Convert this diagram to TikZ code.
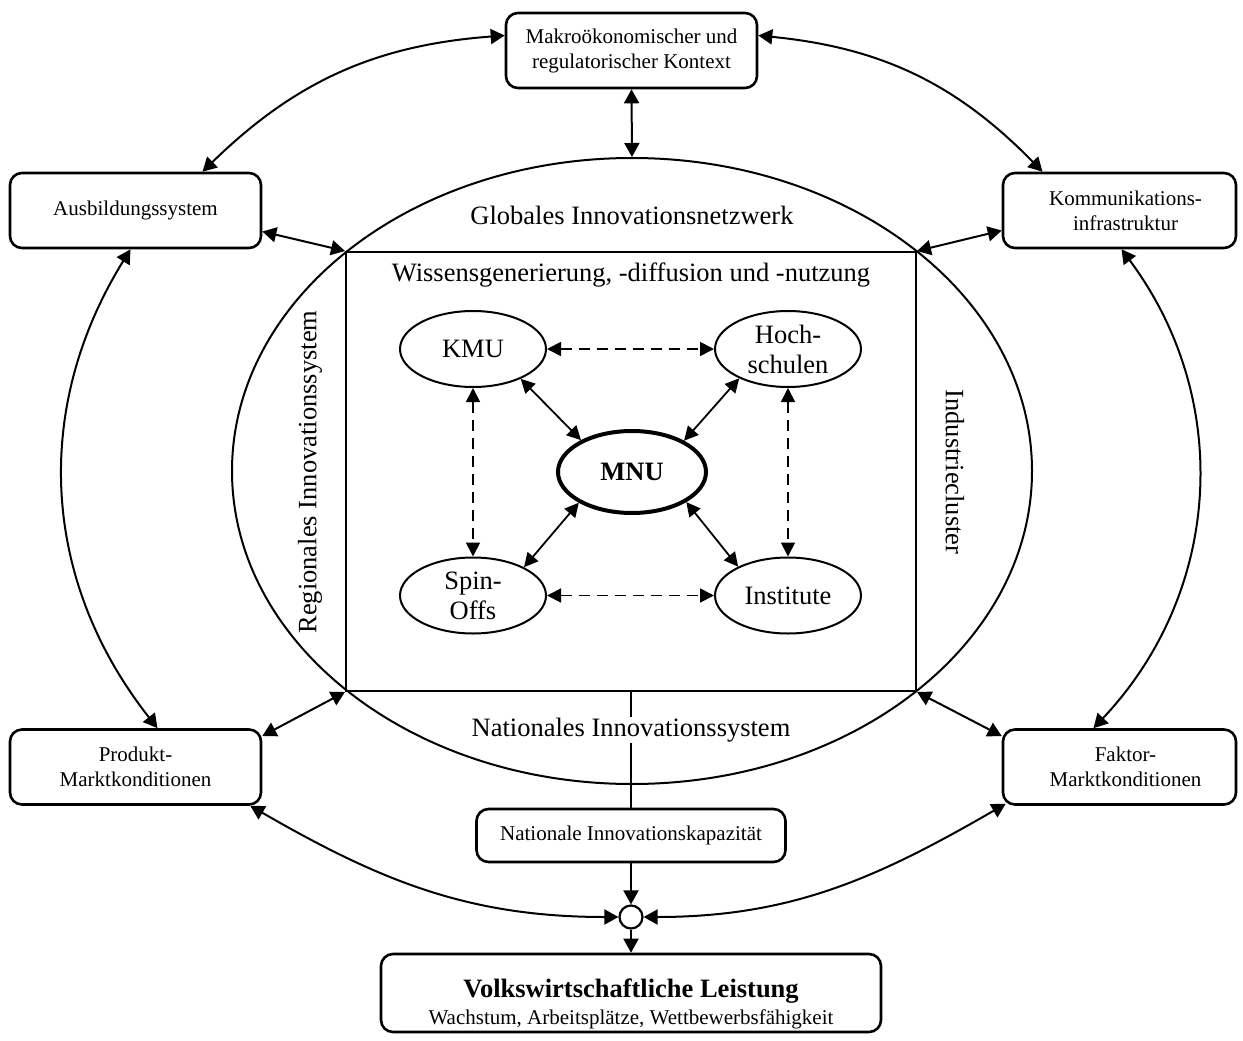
\documentclass[tikz,border=0pt]{standalone}
\usepackage{fontspec}
\setmainfont{Liberation Serif}
\usetikzlibrary{arrows.meta,shapes.geometric}
\begin{document}
\begin{tikzpicture}[x=1pt,y=1pt,
  box/.style={draw,line width=2.6pt,rounded corners=12pt,align=center,inner sep=0pt,
    minimum width=251pt,minimum height=75pt,font=\fontsize{21}{25}\selectfont},
  oval/.style={draw,ellipse,line width=2pt,minimum width=146pt,minimum height=76pt,
    inner sep=0pt,align=center,font=\fontsize{26.5}{30}\selectfont},
  lbl/.style={font=\fontsize{26.5}{30}\selectfont,inner sep=2pt},
  conn/.style={line width=2pt,{Triangle[length=14pt,width=15pt]}-{Triangle[length=14pt,width=15pt]}},
  iconn/.style={line width=1.8pt,{Triangle[length=14pt,width=14pt]}-{Triangle[length=14pt,width=14pt]}},
  dconn/.style={iconn,dash pattern=on 11pt off 7pt},
  one/.style={line width=2pt,-{Triangle[length=14pt,width=15pt]}},
  plain/.style={line width=2pt}
]
\useasboundingbox (0,0) rectangle (1243,-1041);

% outer boxes
\node[box] (makro) at (631.5,-50.5) {Makroökonomischer und\\regulatorischer Kontext};
\node[box] (ausb) at (135.5,-210.5) {Ausbildungssystem};
\node[box,minimum width=233pt] (komm) at (1119.5,-210.5) {\hspace*{12pt}Kommunikations-\\\hspace*{12pt}infrastruktur};
\node[box] (prod) at (135.5,-767) {Produkt-\\Marktkonditionen};
\node[box,minimum width=233pt] (fakt) at (1119.5,-767) {\hspace*{12pt}Faktor-\\\hspace*{12pt}Marktkonditionen};

% big ellipse and rectangle
\node[draw,ellipse,line width=2pt,minimum width=800pt,minimum height=626pt,inner sep=0pt] (glob) at (632,-471) {};
\node[draw,line width=2pt,minimum width=570pt,minimum height=439pt,inner sep=0pt] (wiss) at (631,-471.5) {};

\node[lbl] (globl) at (632,-215) {Globales Innovationsnetzwerk};
\node[lbl] (wissl) at (631,-275) {Wissensgenerierung, -diffusion und -nutzung};
\node[lbl,rotate=90] (regl) at (310,-472) {Regionales Innovationssystem};
\node[lbl,rotate=-90] (indl) at (955,-472) {Industriecluster};

% national
\node[box,minimum width=309pt,minimum height=53pt] (nat) at (631,-835.5) {Nationale Innovationskapazität};
\draw[plain] (wiss.south) -- (nat.north);
\node[lbl,fill=white,inner sep=1pt] (natl) at (631,-730) {Nationales Innovationssystem};

\node[draw,circle,line width=2.2pt,minimum size=23pt,inner sep=0pt] (jn) at (631,-917) {};
\node[box,minimum width=500pt,minimum height=78pt] (volk) at (631,-993)
  {\rule{0pt}{40pt}{\fontsize{26.5}{30}\selectfont\bfseries Volkswirtschaftliche Leistung}\\[2pt]Wachstum, Arbeitsplätze, Wettbewerbsfähigkeit};

% inner ellipses
\node[oval] (kmu) at (473,-349) {KMU};
\node[oval] (hoch) at (788,-349) {Hoch-\\schulen};
\node[oval,line width=4pt,minimum width=148pt,minimum height=82pt,font=\fontsize{26.5}{30}\selectfont\bfseries] (mnu) at (632,-472) {MNU};
\node[oval] (spin) at (473,-595.5) {Spin-\\Offs};
\node[oval] (inst) at (788,-595.5) {Institute};

% outer connectors
\draw[conn] ([yshift=15pt]makro.west) to[bend right=20] ([xshift=67pt]ausb.north);
\draw[conn] ([yshift=15pt]makro.east) to[bend left=20] ([xshift=-77pt]komm.north);
\draw[conn] ([xshift=-5pt]ausb.south) to[bend right=35] ([xshift=22pt]prod.north);
\draw[conn] ([xshift=2pt]komm.south) to[bend left=40] ([xshift=-26pt]fakt.north);
\draw[conn] (makro.south) -- (glob.north);
\draw[conn] ([yshift=-21pt]ausb.east) -- (wiss.north west);
\draw[conn] ([yshift=-20pt]komm.west) -- (wiss.north east);
\draw[conn] ([yshift=31pt]prod.east) -- (wiss.south west);
\draw[conn] ([yshift=31pt]fakt.west) -- (wiss.south east);
\draw[conn] ([xshift=-12pt]prod.south east) to[out=-30,in=180] (jn.west);
\draw[conn] ([shift={(4pt,2pt)}]fakt.south west) to[out=-150,in=0] (jn.east);
\draw[one] (nat.south) -- (jn.north);
\draw[one] (jn.south) -- (volk.north);

% inner connectors
\draw[dconn] (kmu.east) -- (hoch.west);
\draw[dconn] (kmu.south) -- (spin.north);
\draw[dconn] (hoch.south) -- (inst.north);
\draw[dconn] (spin.east) -- (inst.west);
\draw[iconn] (kmu.-32) -- (mnu.148);
\draw[iconn] (hoch.211) -- (mnu.31);
\draw[iconn] (spin.29) -- (mnu.210);
\draw[iconn] (inst.150) -- (mnu.-29);
\end{tikzpicture}
\end{document}
